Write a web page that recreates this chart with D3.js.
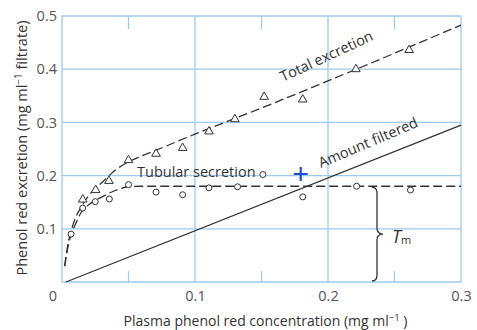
<!DOCTYPE html>
<html>
<head>
<meta charset="utf-8">
<script src="https://cdn.jsdelivr.net/npm/d3@7"></script>
<style>
  body { margin: 0; background: #fff; }
  text { font-family: "Open Sans", "Noto Sans", sans-serif; }
</style>
</head>
<body>
<div id="chart"></div>
<script>
// tick values
var xTicks = [0.1, 0.2, 0.3];
var yTicks = [0.1, 0.2, 0.3, 0.4, 0.5];
var xMinorTicks = [0.05, 0.15, 0.25];

// total excretion (triangles)
var totalPoints = [
	[0.0156, 0.155], [0.0253, 0.173], [0.0353, 0.190], [0.050, 0.229],
	[0.0707, 0.241], [0.0907, 0.252], [0.1105, 0.283], [0.130, 0.306],
	[0.152, 0.348], [0.181, 0.343], [0.221, 0.400], [0.261, 0.436]
];
// tubular secretion (circles)
var secretionPoints = [
	[0.0068, 0.090], [0.0156, 0.139], [0.025, 0.151], [0.0356, 0.156],
	[0.050, 0.183], [0.0707, 0.169], [0.0907, 0.164], [0.1105, 0.177],
	[0.132, 0.179], [0.151, 0.202], [0.181, 0.160], [0.2215, 0.180],
	[0.262, 0.173]
];
// fitted curves
var totalCurve = [
	[0.002, 0.03], [0.005, 0.078], [0.007, 0.097], [0.01, 0.12], [0.015, 0.143],
	[0.02, 0.162], [0.03, 0.187], [0.04, 0.21], [0.05, 0.226], [0.06, 0.237],
	[0.07, 0.247], [0.1, 0.278], [0.15, 0.327], [0.2, 0.378], [0.25, 0.43], [0.3, 0.483]
];
var secretionCurve = [
	[0.002, 0.03], [0.005, 0.072], [0.007, 0.09], [0.01, 0.108], [0.015, 0.133],
	[0.02, 0.145], [0.03, 0.16], [0.04, 0.172], [0.05, 0.179], [0.06, 0.18], [0.3, 0.18]
];
var filteredLine = [[0.003, 0], [0.3, 0.295]];
var bluePlus = [0.1795, 0.203];
var tm = 0.18;

var width = 477, height = 330;
var margin = { top: 16, right: 16, bottom: 48, left: 62 };
var ink = "#333";
var grid = "#9ccaf0";

var svg = d3.select("#chart").append("svg")
	.attr("width", width).attr("height", height);

var x = d3.scaleLinear().domain([0, 0.3]).range([margin.left, width - margin.right]);
var y = d3.scaleLinear().domain([0, 0.5]).range([height - margin.bottom, margin.top]);

//grid and frame
svg.append("g").selectAll("line").data([0].concat(xTicks)).enter().append("line")
	.attr("x1", function (d) { return x(d); }).attr("x2", function (d) { return x(d); })
	.attr("y1", y(0)).attr("y2", y(0.5))
	.attr("stroke", grid).attr("stroke-width", 1.3);
svg.append("g").selectAll("line").data([0].concat(yTicks)).enter().append("line")
	.attr("x1", x(0)).attr("x2", x(0.3))
	.attr("y1", function (d) { return y(d); }).attr("y2", function (d) { return y(d); })
	.attr("stroke", grid).attr("stroke-width", 1.3);

//minor ticks top and bottom
svg.append("g").selectAll("line").data(xMinorTicks).enter().append("line")
	.attr("x1", function (d) { return x(d); }).attr("x2", function (d) { return x(d); })
	.attr("y1", y(0)).attr("y2", y(0) - 11)
	.attr("stroke", grid).attr("stroke-width", 1.3);
svg.append("g").selectAll("line").data(xMinorTicks).enter().append("line")
	.attr("x1", function (d) { return x(d); }).attr("x2", function (d) { return x(d); })
	.attr("y1", y(0.5)).attr("y2", y(0.5) + 13)
	.attr("stroke", grid).attr("stroke-width", 1.3);

//axes labels
var xAxis = svg.append("g")
	.attr("transform", "translate(0," + y(0) + ")")
	.call(d3.axisBottom(x).tickValues(xTicks).tickSize(0).tickPadding(9).tickFormat(d3.format(".1f")));
var yAxis = svg.append("g")
	.attr("transform", "translate(" + x(0) + ",0)")
	.call(d3.axisLeft(y).tickValues(yTicks).tickSize(0).tickPadding(5).tickFormat(d3.format(".1f")));
[xAxis, yAxis].forEach(function (a) {
	a.select(".domain").remove();
	a.selectAll("text").attr("font-size", "14.5px").attr("fill", "#555")
		.attr("font-family", "'Open Sans', sans-serif");
});
svg.append("text").text("0")
	.attr("x", x(0) - 9).attr("y", y(0) + 19)
	.attr("text-anchor", "middle").attr("font-size", "14.5px").attr("fill", "#555");

svg.append("text")
	.attr("x", (x(0) + x(0.3)) / 2 + 4).attr("y", 326)
	.attr("text-anchor", "middle").attr("font-size", "14px").attr("fill", ink)
	.text("Plasma phenol red concentration (mg ml")
	.append("tspan").attr("dy", -5).attr("font-size", "9.5px").text("\u22121")
	.select(function () { return this.parentNode; })
	.append("tspan").attr("dy", 5).attr("font-size", "14px").text(" )");

svg.append("text")
	.attr("transform", "translate(27," + 148 + ") rotate(-90)")
	.attr("text-anchor", "middle").attr("font-size", "14.5px").attr("fill", ink)
	.text("Phenol red excretion (mg ml")
	.append("tspan").attr("dy", -5).attr("font-size", "10px").text("\u22121")
	.select(function () { return this.parentNode; })
	.append("tspan").attr("dy", 5).attr("font-size", "14.5px").text("  filtrate)");

//curves
var line = d3.line()
	.x(function (d) { return x(d[0]); })
	.y(function (d) { return y(d[1]); });

svg.append("path").datum(filteredLine).attr("d", line.curve(d3.curveLinear))
	.attr("fill", "none").attr("stroke", ink).attr("stroke-width", 1.3);
svg.append("path").datum(totalCurve).attr("d", line.curve(d3.curveMonotoneX))
	.attr("fill", "none").attr("stroke", ink).attr("stroke-width", 1.3)
	.attr("stroke-dasharray", "9,4");
svg.append("path").datum(secretionCurve).attr("d", line.curve(d3.curveMonotoneX))
	.attr("fill", "none").attr("stroke", ink).attr("stroke-width", 1.3)
	.attr("stroke-dasharray", "9,4");

//markers
var tri = d3.symbol().type(d3.symbolTriangle).size(32);
svg.append("g").selectAll("path").data(totalPoints).enter().append("path")
	.attr("d", tri)
	.attr("transform", function (d) { return "translate(" + x(d[0]) + "," + y(d[1]) + ")"; })
	.attr("fill", "#fff").attr("stroke", ink).attr("stroke-width", 1);
svg.append("g").selectAll("circle").data(secretionPoints).enter().append("circle")
	.attr("cx", function (d) { return x(d[0]); })
	.attr("cy", function (d) { return y(d[1]); })
	.attr("r", 3)
	.attr("fill", "#fff").attr("stroke", ink).attr("stroke-width", 1);

//blue cross
svg.append("path")
	.attr("d", "M-7,0H7M0,-7V7")
	.attr("transform", "translate(" + x(bluePlus[0]) + "," + y(bluePlus[1]) + ")")
	.attr("stroke", "#1f4fd8").attr("stroke-width", 2.2);

//labels on curves
svg.append("text")
	.attr("transform", "translate(283,82) rotate(-25)")
	.attr("font-size", "14.5px").attr("fill", ink).text("Total excretion");
svg.append("text")
	.attr("transform", "translate(321,168) rotate(-23)")
	.attr("font-size", "14.5px").attr("fill", ink).text("Amount filtered");
svg.append("text")
	.attr("x", 137).attr("y", 177)
	.attr("font-size", "14.5px").attr("fill", ink).text("Tubular secretion");

//Tm brace
var bx = 377, bTop = y(tm) + 1, bBot = y(0) - 1, bMid = (bTop + bBot) / 2;
svg.append("path")
	.attr("d", "M" + (bx - 5) + "," + bTop +
		" Q" + bx + "," + bTop + " " + bx + "," + (bTop + 6) +
		" L" + bx + "," + (bMid - 6) +
		" Q" + bx + "," + bMid + " " + (bx + 6) + "," + bMid +
		" Q" + bx + "," + bMid + " " + bx + "," + (bMid + 6) +
		" L" + bx + "," + (bBot - 6) +
		" Q" + bx + "," + bBot + " " + (bx - 5) + "," + bBot)
	.attr("fill", "none").attr("stroke", ink).attr("stroke-width", 1.3);
svg.append("text")
	.attr("x", 392).attr("y", 243)
	.attr("font-size", "18px").attr("font-style", "italic").attr("fill", ink)
	.text("T")
	.append("tspan").attr("dy", 1).attr("font-size", "11px").attr("font-style", "normal").text("m");
</script>
</body>
</html>
